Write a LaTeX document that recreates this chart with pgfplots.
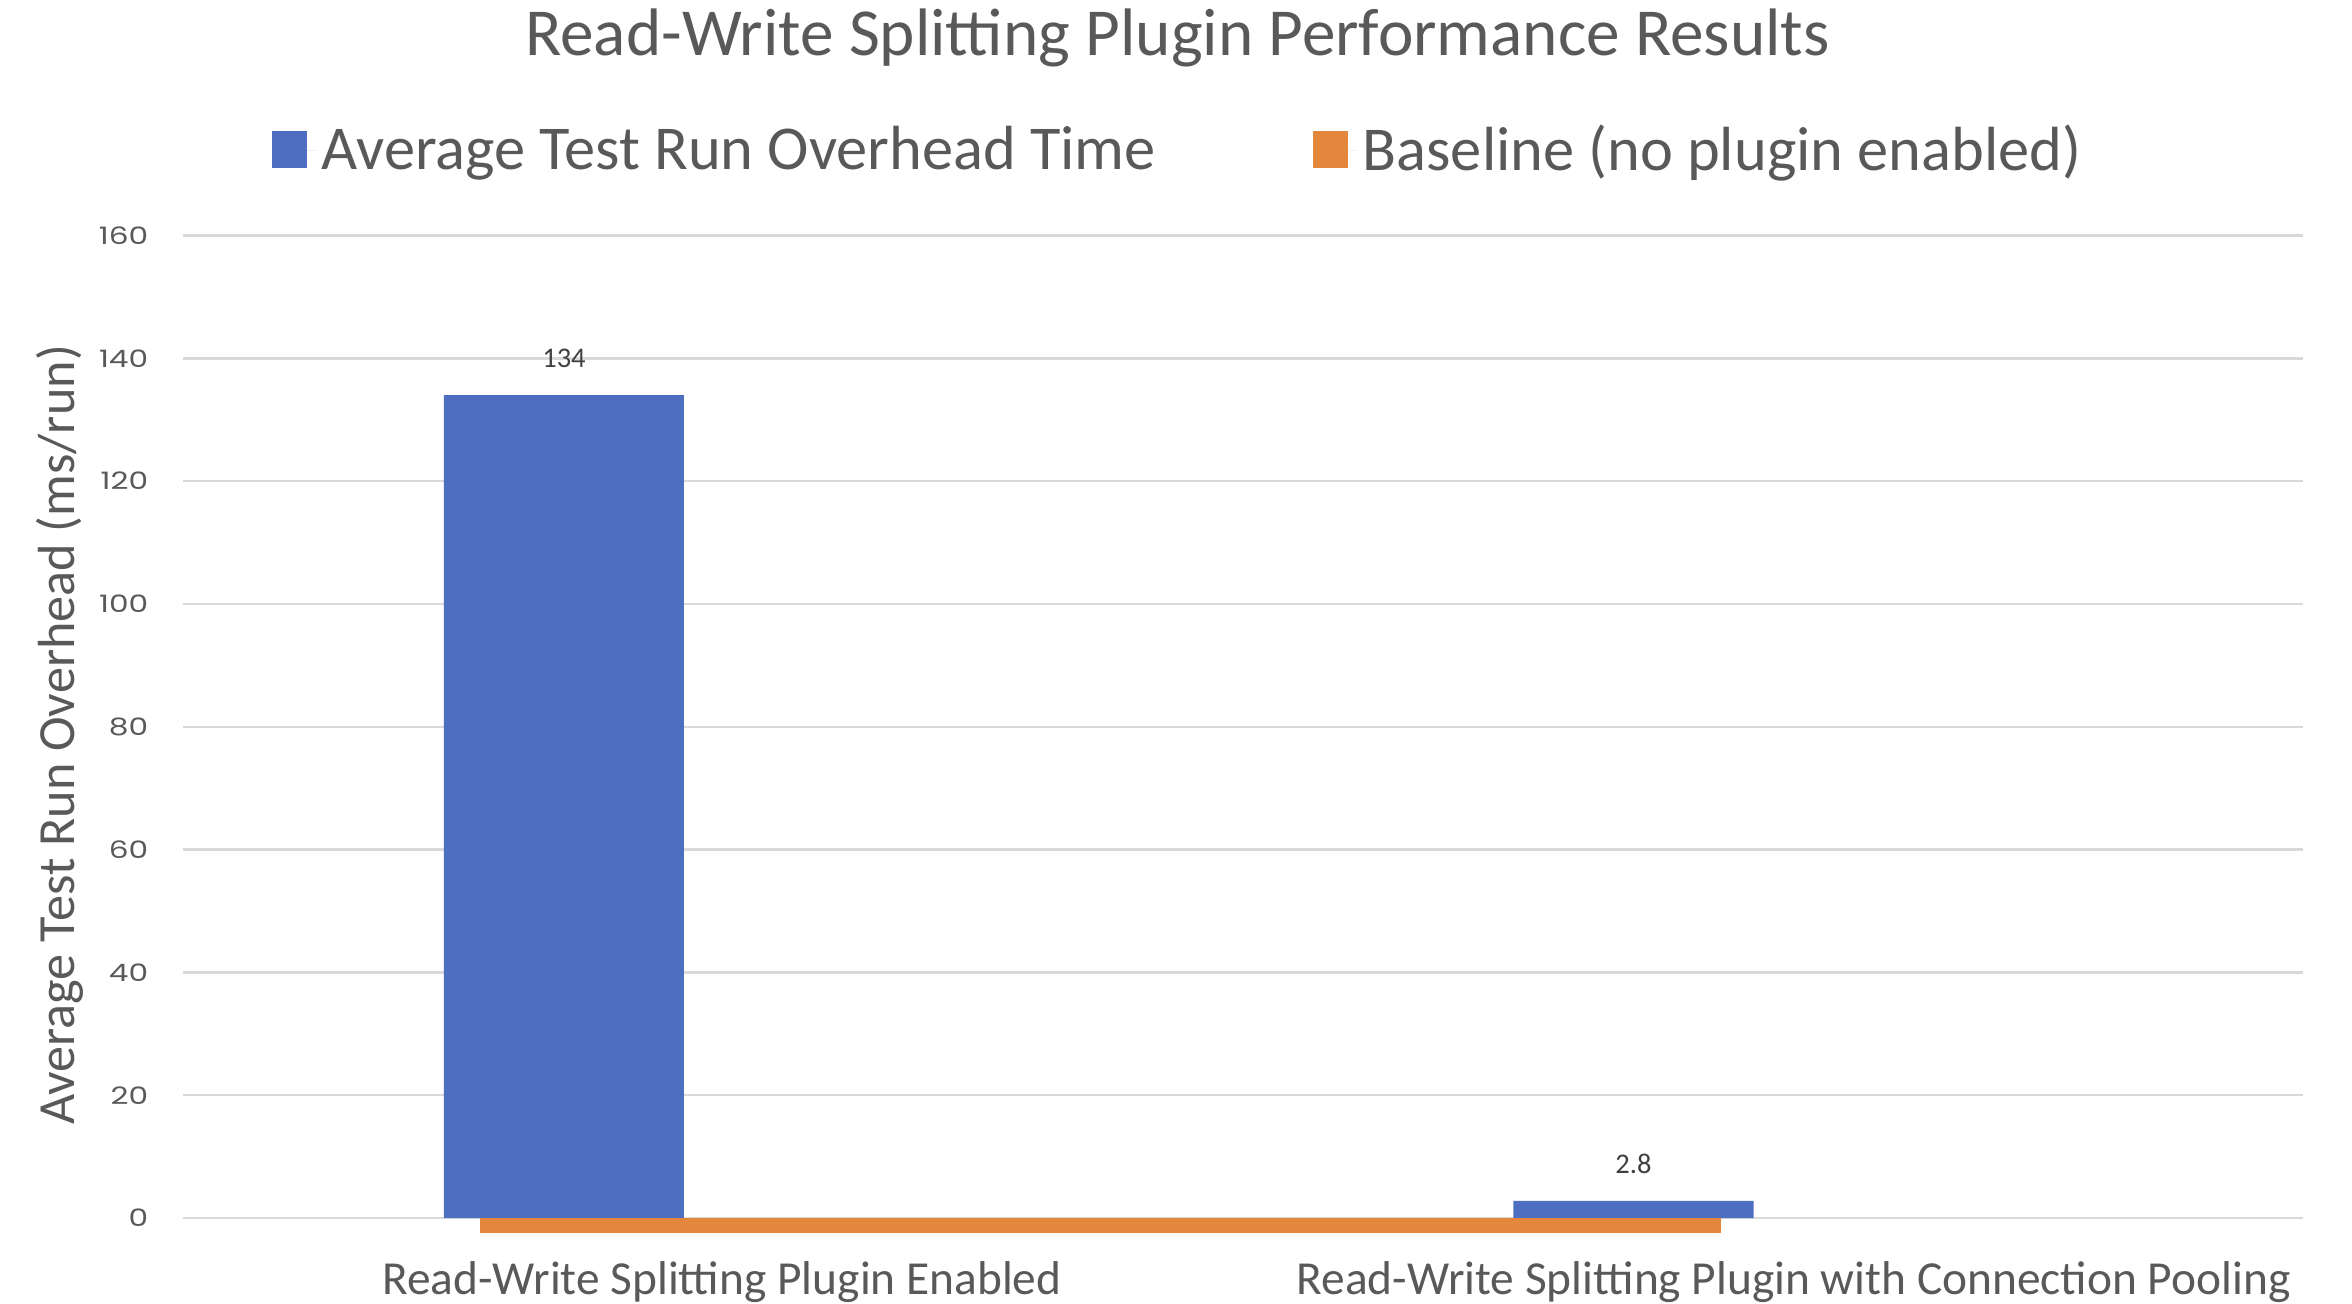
\documentclass[border=0pt]{standalone}
\usepackage{fontspec}
\setmainfont{Carlito}
\newfontfamily\tickfont{Poppins}
\usepackage{pgfplots}
\pgfplotsset{compat=1.18}
\definecolor{barblue}{HTML}{4E6EC2}
\definecolor{barorange}{HTML}{E2873C}
\definecolor{txtgray}{HTML}{595959}
\definecolor{gridgray}{HTML}{D9D9D9}
\definecolor{lblgray}{HTML}{404040}
\begin{document}
\begin{tikzpicture}
\useasboundingbox (-61pt,-28.5pt) rectangle (723pt,406pt);
\begin{axis}[
  at={(0pt,0pt)}, anchor=origin,
  scale only axis,
  width=706.5pt, height=327.5pt,
  xmin=0, xmax=2, ymin=0, ymax=160,
  clip=false,
  axis line style={draw=none},
  tick style={draw=none},
  ymajorgrids, grid style={gridgray, line width=0.8pt},
  ytick={0,20,...,160},
  xtick={0.5085,1.5198},
  xticklabels={Read-Write Splitting Plugin Enabled, Read-Write Splitting Plugin with Connection Pooling},
  xticklabel style={font=\fontsize{15.8}{18}\selectfont, text=txtgray, anchor=north, yshift=-11pt},
  yticklabel style={font=\tickfont\fontsize{8}{9}\selectfont, text=txtgray, anchor=east, xshift=-7pt, xscale=1.3},
  /pgf/number format/assume math mode=true,
  ylabel={Average Test Run Overhead (ms/run)},
  ylabel style={at={(axis description cs:-0.058,0.4916)}, anchor=center, rotate=0, font=\fontsize{17.4}{20}\selectfont, text=txtgray},
  title={Read-Write Splitting Plugin Performance Results},
  title style={at={(axis description cs:0.4692,1.183)}, anchor=center, font=\fontsize{22.4}{26}\selectfont, text=txtgray},
  legend columns=2,
  legend style={at={(axis description cs:0.0418,1.087)}, anchor=west, draw=none, fill=none,
    inner xsep=0pt, inner ysep=0pt, font=\fontsize{20.8}{24}\selectfont, text=txtgray,
    /tikz/every even column/.append style={column sep=50.5pt}},
  legend cell align=left,
]
\addplot[ybar, bar width=0.2265, bar shift=0pt, fill=barblue, draw=none,
  nodes near coords, nodes near coords style={font=\fontsize{9.5}{11}\selectfont, text=lblgray, anchor=south, yshift=5.5pt},
  legend image code/.code={\fill[barblue] (0pt,-6pt) rectangle (11.5pt,6.5pt); \path (0pt,0pt) -- (14.5pt,0pt);}]
  coordinates {(0.3595,134) (1.3687,2.8)};
\addlegendentry{Average Test Run Overhead Time}
\addplot[fill=barorange, draw=none,
  legend image code/.code={\fill[barorange] (0pt,-6pt) rectangle (11.5pt,6.5pt); \path (0pt,0pt) -- (14.5pt,0pt);}]
  coordinates {(0.280,0) (1.451,0) (1.451,-2.4) (0.280,-2.4)} -- cycle;
\addlegendentry{Baseline (no plugin enabled)}
\end{axis}
\end{tikzpicture}
\end{document}
